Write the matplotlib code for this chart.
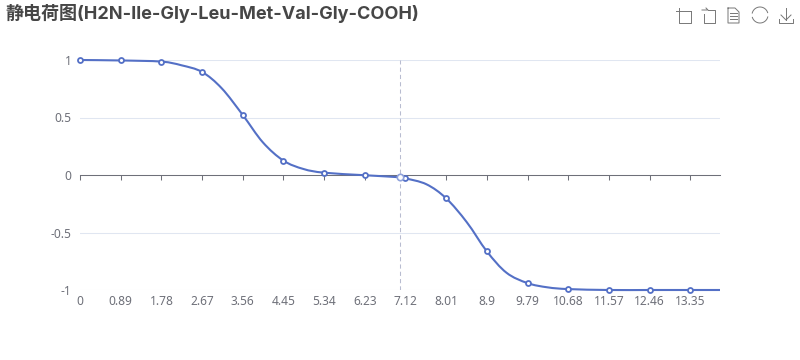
import matplotlib
matplotlib.use("Agg")
import matplotlib.pyplot as plt
import numpy as np
from matplotlib.lines import Line2D
from matplotlib.patches import PathPatch
from matplotlib.path import Path

plt.rcParams['font.family'] = ['Noto Sans', 'Noto Sans CJK SC', 'DejaVu Sans']

title = "静电荷图(H2N-Ile-Gly-Leu-Met-Val-Gly-COOH)"
# curve, with a few extra readings between the markers
curve_ph = [0, 0.89, 1.78, 2.22, 2.67, 3.10, 3.56, 4.0, 4.45, 4.89, 5.34, 6.23, 7.0, 7.12, 7.58, 8.01,
            8.46, 8.9, 9.33, 9.79, 10.23, 10.68, 11.57, 12.46, 13.35, 14]
curve_charge = [1.0, 0.996, 0.986, 0.954, 0.896, 0.754, 0.522, 0.284, 0.125, 0.052, 0.02, -0.002, -0.02, -0.029,
                -0.081, -0.203, -0.41, -0.664, -0.85, -0.94, -0.977, -0.992, -1.0, -1.0, -1.0, -1.0]
marker_ph = [0, 0.89, 1.78, 2.67, 3.56, 4.45, 5.34, 6.23, 7.12, 8.01, 8.9, 9.79, 10.68, 11.57, 12.46, 13.35]
marker_charge = [1.0, 0.996, 0.986, 0.896, 0.522, 0.125, 0.02, -0.002, -0.029, -0.203, -0.664, -0.94, -0.992, -1.0, -1.0, -1.0]
x_ticks = marker_ph
y_ticks = [-1, -0.5, 0, 0.5, 1]
y_labels = ["-1", "-0.5", "0", "0.5", "1"]
pi_ph = 7.0
pi_charge = -0.02

BLUE = "#5470C6"
GREY = "#6E7079"
W, H = 800, 360


def smooth_path(xs, ys, k=1 / 6):
    # catmull-rom style bezier through the points
    xs, ys = np.array(xs, float), np.array(ys, float)
    verts = [(xs[0], ys[0])]
    codes = [Path.MOVETO]
    n = len(xs)
    for i in range(n - 1):
        p0 = max(i - 1, 0)
        p3 = min(i + 2, n - 1)
        c1 = (xs[i] + k * (xs[i + 1] - xs[p0]), ys[i] + k * (ys[i + 1] - ys[p0]))
        c2 = (xs[i + 1] - k * (xs[p3] - xs[i]), ys[i + 1] - k * (ys[p3] - ys[i]))
        verts += [c1, c2, (xs[i + 1], ys[i + 1])]
        codes += [Path.CURVE4] * 3
    return Path(verts, codes)


def px_line(fig, xs, ys):
    fig.add_artist(Line2D([x / W for x in xs], [1 - y / H for y in ys], color="#777777", lw=0.7))


fig = plt.figure(figsize=(8, 3.6), dpi=100)
ax = fig.add_axes([80 / W, 1 - 290 / H, 640 / W, 230 / H])
ax.set_xlim(0, 14)
ax.set_ylim(-1, 1)

for s in ['top', 'right', 'left']:
    ax.spines[s].set_visible(False)
ax.spines['bottom'].set_position(('data', 0))
ax.spines['bottom'].set_color(GREY)
ax.spines['bottom'].set_linewidth(0.75)

ax.set_yticks(y_ticks)
ax.set_yticklabels(y_labels)
ax.set_xticks(x_ticks)
ax.set_xticklabels([str(v) for v in x_ticks])
ax.tick_params(axis='y', length=0, pad=6, labelsize=8.6, labelcolor=GREY)
ax.tick_params(axis='x', length=3.6, width=0.75, color=GREY, pad=82.5, labelsize=8.6, labelcolor=GREY)
ax.grid(axis='y', color="#E0E6F1", lw=0.75)
ax.set_axisbelow(True)

ax.axvline(pi_ph, color="#B8BCD0", lw=0.75, ls=(0, (4, 3)), zorder=1.5)

ax.add_patch(PathPatch(smooth_path(curve_ph, curve_charge), fc='none', ec=BLUE, lw=1.5, zorder=3, clip_on=False))
ax.plot(marker_ph, marker_charge, ls='none', marker='o', ms=3.6, mfc='white', mec=BLUE, mew=1.3, zorder=4, clip_on=False)
ax.plot(pi_ph, pi_charge, ls='none', marker='o', ms=4.6, mfc='white', mec="#8FA2DC", mew=1.2, zorder=4)

fig.text(5 / W, 1 - 13 / H, title, fontsize=13, fontweight='bold', color="#464646", va='center', ha='left',
         family=['Inter', 'Noto Sans CJK SC'])

# toolbox icons
px_line(fig, [676, 691], [11, 11])
px_line(fig, [679, 679, 691, 691], [8, 23, 23, 11])
px_line(fig, [704, 704, 715, 715, 708], [14, 23, 23, 10, 10])
px_line(fig, [702, 708, 706], [10, 10, 8])
px_line(fig, [728, 728, 739, 739, 735, 728], [8, 23, 23, 12, 8, 8])
for y in [13, 16, 19]:
    px_line(fig, [730, 737], [y, y])
theta = np.linspace(0.3, 2.9, 30)
px_line(fig, list(760 + 8 * np.cos(theta)), list(15 - 8 * np.sin(theta)))
px_line(fig, list(760 - 8 * np.cos(theta)), list(15 + 8 * np.sin(theta)))
px_line(fig, [786, 786], [8, 20])
px_line(fig, [781, 786, 791], [15, 20, 15])
px_line(fig, [779, 779, 793, 793], [19, 23, 23, 19])

fig.savefig("out.png", dpi=100)
